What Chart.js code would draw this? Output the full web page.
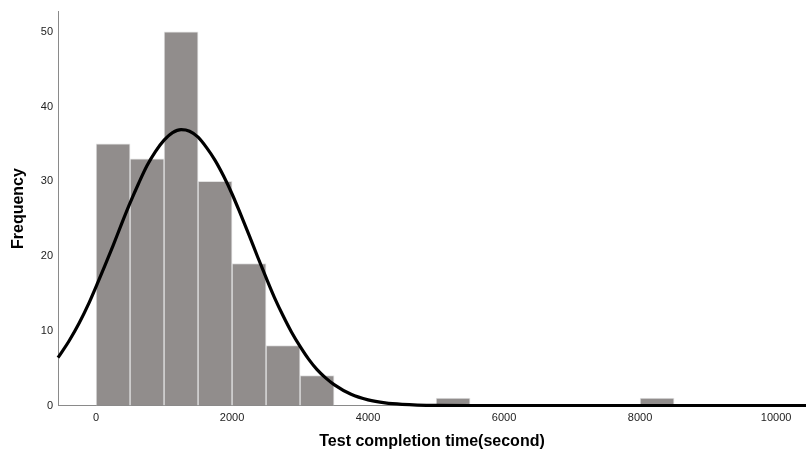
<!DOCTYPE html>
<html>
<head>
<meta charset="utf-8">
<script src="https://cdn.jsdelivr.net/npm/chart.js@4/dist/chart.umd.min.js"></script>
<style>
    html, body { margin: 0; padding: 0; background: #ffffff; }
    #wrap { width: 806px; height: 457px; }
</style>
</head>
<body>
<div id="wrap"><canvas id="histChart"></canvas></div>
<script>
// histogram bins (centre of each 500 s bin) and counts
const binCenters = [250, 750, 1250, 1750, 2250, 2750, 3250, 5250, 8250];
const binCounts = [35, 33, 50, 30, 19, 8, 4, 1, 1];

// normal curve
const curveX = [-560, -400, -250, -100, 0, 125, 250, 375, 500, 625, 750, 875, 1000, 1125, 1250, 1375, 1500, 1625, 1750, 1875, 2000, 2125, 2250, 2375, 2500, 2625, 2750, 2875, 3000, 3125, 3250, 3375, 3500, 3750, 4000, 4250, 4500, 5000, 5500, 6000, 8000, 10440];
const curveY = [6.4, 8.6, 11.0, 13.8, 15.9, 18.6, 21.4, 24.3, 27.1, 29.7, 32.1, 34.0, 35.5, 36.5, 36.9, 36.7, 35.9, 34.5, 32.8, 30.7, 28.3, 25.6, 22.8, 19.9, 17.1, 14.4, 12.0, 9.8, 7.9, 6.2, 4.8, 3.7, 2.8, 1.5, 0.75, 0.35, 0.16, 0.02, 0, 0, 0, 0];

const xTicks = [0, 2000, 4000, 6000, 8000, 10000];
const yTicks = [0, 10, 20, 30, 40, 50];

const fontFamily = '"Liberation Sans", Arial, sans-serif';

const bars = binCenters.map((x, i) => ({ x: x, y: binCounts[i] }));
const curve = curveX.map((x, i) => ({ x: x, y: curveY[i] }));

const ctx = document.getElementById('histChart').getContext('2d');
new Chart(ctx, {
    type: 'bar',
    data: {
        datasets: [
            {
                type: 'line',
                label: 'Normal',
                data: curve,
                borderColor: '#000000',
                borderWidth: 3.2,
                pointRadius: 0,
                cubicInterpolationMode: 'monotone',
                fill: false,
                clip: false,
                order: 0
            },
            {
                label: 'Frequency',
                data: bars,
                backgroundColor: '#918d8c',
                borderColor: '#e2e2e2',
                borderWidth: 1,
                barPercentage: 1,
                categoryPercentage: 1,
                order: 1
            }
        ]
    },
    options: {
        responsive: true,
        maintainAspectRatio: false,
        animation: false,
        layout: { padding: { top: 10, right: 0, left: 0, bottom: 0 } },
        plugins: {
            legend: { display: false },
            tooltip: { enabled: false }
        },
        scales: {
            x: {
                type: 'linear',
                min: -560,
                max: 10440,
                offset: false,
                grid: { display: false, drawTicks: false },
                border: { display: true, color: '#8a8a8a', width: 1 },
                afterBuildTicks: (scale) => {
                    scale.ticks = xTicks.map(v => ({ value: v }));
                },
                afterFit: (scale) => { scale.height = 51.5; },
                ticks: {
                    color: '#222222',
                    padding: 6,
                    maxRotation: 0,
                    font: { family: fontFamily, size: 11 },
                    callback: (value) => String(value)
                },
                title: {
                    display: true,
                    text: 'Test completion time(second)',
                    color: '#000000',
                    padding: { top: 4, bottom: 6 },
                    font: { family: fontFamily, size: 16, weight: 'bold' }
                }
            },
            y: {
                min: 0,
                max: 52.7,
                grid: { display: false, drawTicks: false },
                border: { display: true, color: '#8a8a8a', width: 1 },
                afterBuildTicks: (scale) => {
                    scale.ticks = yTicks.map(v => ({ value: v }));
                },
                afterFit: (scale) => { scale.width = 58; },
                ticks: {
                    color: '#222222',
                    padding: 5,
                    font: { family: fontFamily, size: 11 },
                    callback: (value) => String(value)
                },
                title: {
                    display: true,
                    text: 'Frequency',
                    color: '#000000',
                    padding: { top: 9, bottom: 4 },
                    font: { family: fontFamily, size: 16, weight: 'bold' }
                }
            }
        }
    }
});
</script>
</body>
</html>
